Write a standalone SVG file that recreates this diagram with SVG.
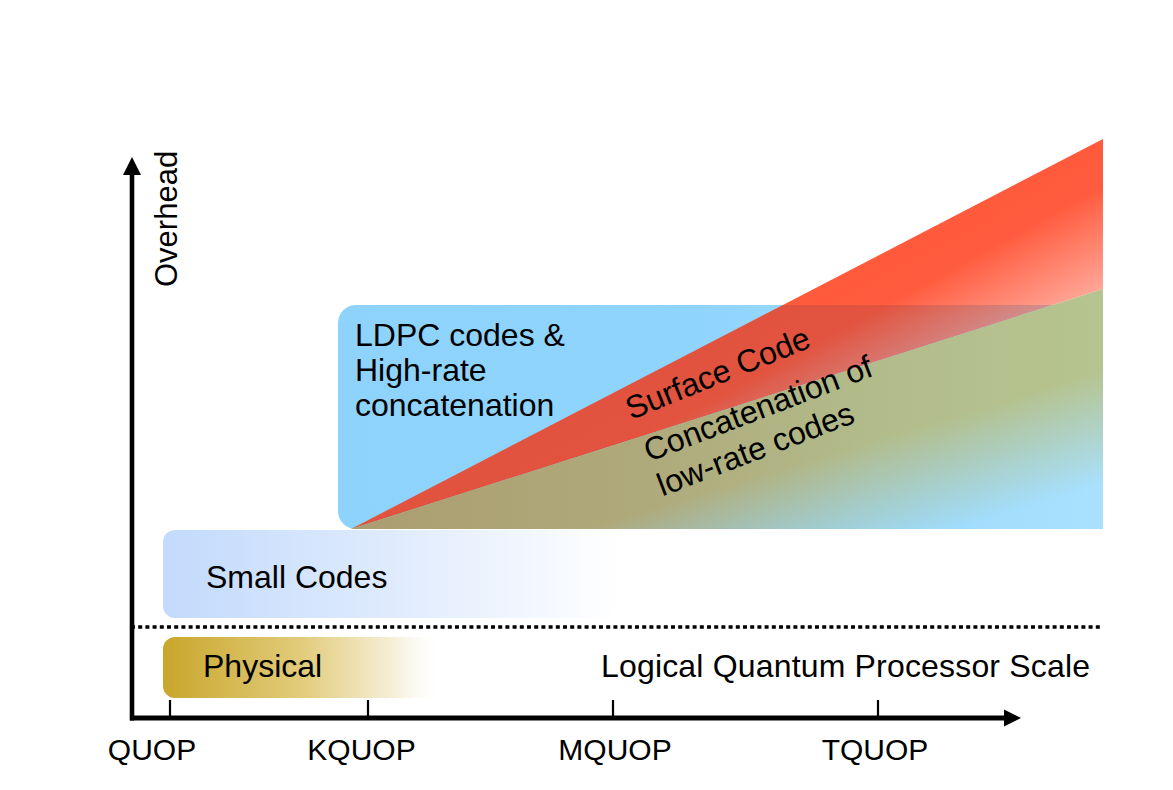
<svg xmlns="http://www.w3.org/2000/svg" width="1173" height="790" viewBox="0 0 1173 790">
<defs>
<style>
text{font-family:"Liberation Sans",Arial,Helvetica,sans-serif;fill:#000}
.lbl{font-size:32px}
.ax{font-size:30px;text-anchor:middle}
.tick{stroke:#000;stroke-width:2.2;fill:none}
.axis{stroke:#000;fill:none}
</style>
<linearGradient id="gBlue" gradientUnits="userSpaceOnUse" x1="338" y1="0" x2="1103" y2="0">
<stop offset="0" stop-color="#8ed3fb"/><stop offset="0.45" stop-color="#8fd4fc"/><stop offset="1" stop-color="#a9e1fd"/>
</linearGradient>
<linearGradient id="gRedTop" gradientUnits="userSpaceOnUse" x1="1000" y1="200" x2="1060" y2="310">
<stop offset="0" stop-color="#ff5a3c"/><stop offset="0.3" stop-color="#ff5c3f"/><stop offset="1" stop-color="#ff5c40" stop-opacity="0.55"/>
</linearGradient>
<linearGradient id="gRedIn" gradientUnits="userSpaceOnUse" x1="1000" y1="200" x2="1060" y2="310">
<stop offset="0" stop-color="#e1533e"/><stop offset="0.3" stop-color="#e2543f"/><stop offset="1" stop-color="#ef5a45" stop-opacity="0.55"/>
</linearGradient>
<linearGradient id="gGreenCol" gradientUnits="userSpaceOnUse" x1="351" y1="0" x2="1103" y2="0">
<stop offset="0" stop-color="#ab9e70"/><stop offset="0.4" stop-color="#afaa7b"/><stop offset="0.7" stop-color="#b2bc8b"/><stop offset="1" stop-color="#b6c48f"/>
</linearGradient>
<linearGradient id="gGreenMask" gradientUnits="userSpaceOnUse" x1="850" y1="320" x2="930" y2="580">
<stop offset="0.45" stop-color="#fff" stop-opacity="1"/><stop offset="0.85" stop-color="#fff" stop-opacity="0"/>
</linearGradient>
<mask id="mGreen" maskUnits="userSpaceOnUse" x="0" y="0" width="1173" height="790">
<rect x="0" y="0" width="1173" height="790" fill="url(#gGreenMask)"/>
</mask>
<linearGradient id="gSmall" x1="0" y1="0" x2="1" y2="0">
<stop offset="0" stop-color="#c2dafc"/><stop offset="0.5" stop-color="#dfebfd"/><stop offset="1" stop-color="#ffffff"/>
</linearGradient>
<linearGradient id="gPhys" x1="0" y1="0" x2="1" y2="0">
<stop offset="0" stop-color="#c9a62b"/><stop offset="0.5" stop-color="#e2cc7c"/><stop offset="0.85" stop-color="#f8f2e0"/><stop offset="1" stop-color="#ffffff" stop-opacity="0"/>
</linearGradient>
<clipPath id="cTop"><rect x="0" y="0" width="1173" height="305"/></clipPath>
<clipPath id="cIn"><rect x="0" y="305" width="1173" height="300"/></clipPath>
</defs>
<rect width="1173" height="790" fill="#fff"/>

<g id="ldpc-box">
<path d="M356,305 H1103 V529 H356 A18,18 0 0 1 338,511 V323 A18,18 0 0 1 356,305 Z" fill="url(#gBlue)"/>
<text class="lbl" x="355" y="346">LDPC codes &amp;</text>
<text class="lbl" x="355" y="381">High-rate</text>
<text class="lbl" x="355" y="416">concatenation</text>
</g>

<g id="surface-code">
<polygon points="351,529 1103,139 1103,289" fill="url(#gRedTop)" clip-path="url(#cTop)"/>
<polygon points="351,529 1103,139 1103,289" fill="url(#gRedIn)" clip-path="url(#cIn)"/>
<text class="lbl" transform="translate(631,420) rotate(-22)">Surface Code</text>
</g>

<g id="concatenation">
<polygon points="351,529 1103,289 1103,529" fill="url(#gGreenCol)" mask="url(#mGreen)"/>
<text class="lbl" transform="translate(649,462) rotate(-21)"><tspan x="0" y="0">Concatenation of</tspan><tspan x="0" dy="37">low-rate codes</tspan></text>
</g>

<g id="small-codes">
<rect x="163" y="530" width="457" height="88" rx="12" fill="url(#gSmall)"/>
<text class="lbl" x="206" y="588">Small Codes</text>
</g>

<g id="physical">
<rect x="163" y="637" width="280" height="61" rx="12" fill="url(#gPhys)"/>
<text class="lbl" x="203" y="677">Physical</text>
</g>

<g id="connectors">
<line x1="131" y1="627" x2="1103" y2="627" stroke="#000" stroke-width="3.5" stroke-dasharray="4 3.2"/>
<line class="axis" x1="132" y1="720.5" x2="132" y2="172" stroke-width="4.6"/>
<polygon points="132,157 123,175 141,175" fill="#000"/>
<line class="axis" x1="130" y1="718" x2="1006" y2="718" stroke-width="5"/>
<polygon points="1021,718 1004,709.5 1004,726.5" fill="#000"/>
<line class="tick" x1="170" y1="700" x2="170" y2="718"/>
<line class="tick" x1="368" y1="700" x2="368" y2="718"/>
<line class="tick" x1="613" y1="700" x2="613" y2="718"/>
<line class="tick" x1="878" y1="700" x2="878" y2="718"/>
</g>

<g id="labels">
<text class="lbl" x="601" y="677" textLength="489" lengthAdjust="spacing">Logical Quantum Processor Scale</text>
<text style="font-size:31px" transform="translate(177,287) rotate(-90)">Overhead</text>
<text class="ax" x="152" y="759.5">QUOP</text>
<text class="ax" x="361.5" y="759.5">KQUOP</text>
<text class="ax" x="615" y="759.5">MQUOP</text>
<text class="ax" x="875" y="759.5">TQUOP</text>
</g>
</svg>
